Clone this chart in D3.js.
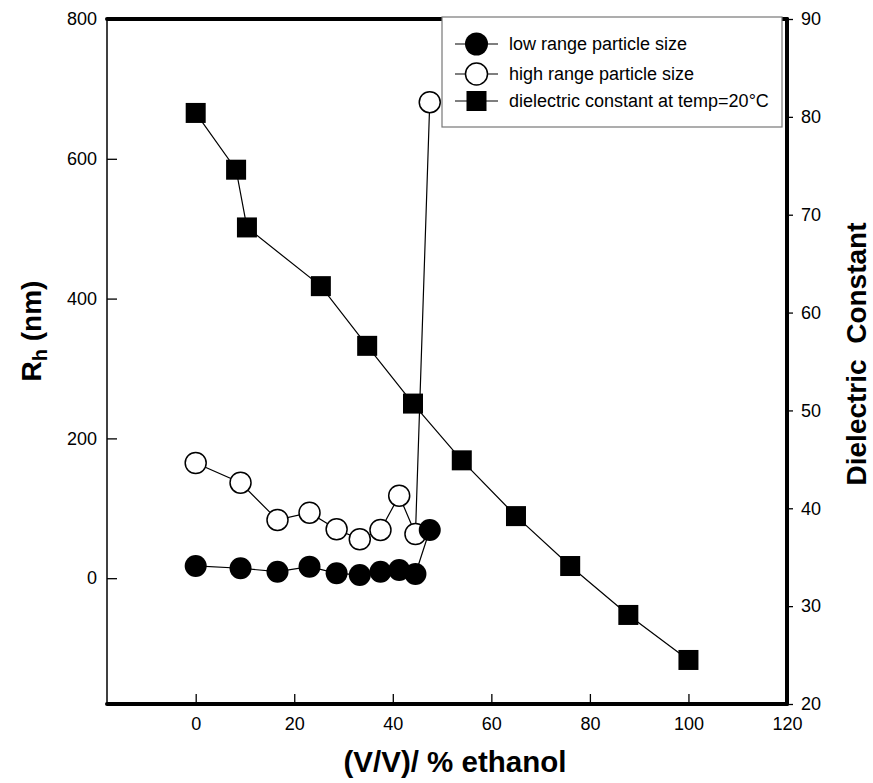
<!DOCTYPE html>
<html>
<head>
<meta charset="utf-8">
<script src="https://cdn.jsdelivr.net/npm/d3@7"></script>
<style>
  html, body { margin: 0; padding: 0; background: #fff; }
  svg text { font-family: "Liberation Sans", Arial, sans-serif; fill: #000; }
</style>
</head>
<body>
<div id="chart"></div>
<script>
const lowX = [0, 9.1, 16.6, 23.1, 28.6, 33.3, 37.5, 41.3, 44.6, 47.5];
const lowRh = [17.5, 14.2, 9.3, 16.5, 7, 4.6, 9.3, 11.7, 6, 69];

const highX = [0, 9.1, 16.6, 23.1, 28.6, 33.3, 37.5, 41.3, 44.6, 47.5];
const highRh = [164.8, 136.6, 83.3, 93.7, 70, 55.7, 69, 118, 63.2, 681];

const dielX = [0, 8.2, 10.4, 25.4, 34.8, 44.1, 54, 65, 76, 87.8, 100];
const dielK = [80.4, 74.6, 68.7, 62.7, 56.6, 50.7, 44.9, 39.2, 34.1, 29.1, 24.5];

const xTicks = [0, 20, 40, 60, 80, 100, 120];
const yLeftTicks = [0, 200, 400, 600, 800];
const yRightTicks = [20, 30, 40, 50, 60, 70, 80, 90];

const legendLabels = [
  "low range particle size",
  "high range particle size",
  "dielectric constant at temp=20\u00b0C",
];

const width = 873, height = 783;
const m = { left: 107, right: 787, top: 19, bottom: 704 };

const svg = d3.select("#chart").append("svg")
  .attr("width", width)
  .attr("height", height);

svg.append("rect").attr("width", width).attr("height", height).attr("fill", "#fff");

const x = d3.scaleLinear().domain([-18, 120]).range([m.left, m.right]);
const yL = d3.scaleLinear().domain([-180, 800]).range([m.bottom, m.top]);
const yR = d3.scaleLinear().domain([20, 90]).range([m.bottom, m.top]);

// Axes (ticks only, frame lines drawn separately)
const gx = svg.append("g")
  .attr("transform", `translate(0,${m.bottom})`)
  .call(d3.axisBottom(x).tickValues(xTicks).tickSizeInner(-10).tickSizeOuter(0).tickPadding(13));

const gyl = svg.append("g")
  .attr("transform", `translate(${m.left},0)`)
  .call(d3.axisLeft(yL).tickValues(yLeftTicks).tickSizeInner(-10).tickSizeOuter(0).tickPadding(10));

const gyr = svg.append("g")
  .attr("transform", `translate(${m.right},0)`)
  .call(d3.axisRight(yR).tickValues(yRightTicks).tickSizeInner(6).tickSizeOuter(0).tickPadding(8));

[gx, gyl, gyr].forEach((g) => {
  g.select(".domain").remove();
  g.selectAll(".tick line").attr("stroke", "#000").attr("stroke-width", 1.3);
  g.selectAll(".tick text")
    .attr("font-size", 18)
    .attr("font-family", '"Liberation Sans", Arial, sans-serif')
    .attr("fill", "#000");
});

// Frame: thin left, thick top / bottom / right
svg.append("line")
  .attr("x1", m.left).attr("x2", m.left)
  .attr("y1", m.top).attr("y2", m.bottom)
  .attr("stroke", "#000").attr("stroke-width", 1.5);

const thick = [
  [m.left, m.top, m.right, m.top],
  [m.left, m.bottom, m.right, m.bottom],
  [m.right, m.top, m.right, m.bottom],
];
svg.append("g").selectAll("line")
  .data(thick)
  .join("line")
  .attr("x1", (d) => d[0]).attr("y1", (d) => d[1])
  .attr("x2", (d) => d[2]).attr("y2", (d) => d[3])
  .attr("stroke", "#000").attr("stroke-width", 4)
  .attr("stroke-linecap", "round");

// Series
const dielData = dielX.map((v, i) => [v, dielK[i]]);
const highData = highX.map((v, i) => [v, highRh[i]]);
const lowData = lowX.map((v, i) => [v, lowRh[i]]);

const lineR = d3.line().x((d) => x(d[0])).y((d) => yR(d[1]));
const lineL = d3.line().x((d) => x(d[0])).y((d) => yL(d[1]));

svg.append("path").datum(dielData).attr("d", lineR)
  .attr("fill", "none").attr("stroke", "#000").attr("stroke-width", 1.2);
const sq = 20;
svg.append("g").selectAll("rect")
  .data(dielData)
  .join("rect")
  .attr("x", (d) => x(d[0]) - sq / 2)
  .attr("y", (d) => yR(d[1]) - sq / 2)
  .attr("width", sq).attr("height", sq)
  .attr("fill", "#000");

svg.append("path").datum(highData).attr("d", lineL)
  .attr("fill", "none").attr("stroke", "#000").attr("stroke-width", 1.2);
svg.append("g").selectAll("circle")
  .data(highData)
  .join("circle")
  .attr("cx", (d) => x(d[0]))
  .attr("cy", (d) => yL(d[1]))
  .attr("r", 10.5)
  .attr("fill", "#fff").attr("stroke", "#000").attr("stroke-width", 1.5);

svg.append("path").datum(lowData).attr("d", lineL)
  .attr("fill", "none").attr("stroke", "#000").attr("stroke-width", 1.2);
svg.append("g").selectAll("circle")
  .data(lowData)
  .join("circle")
  .attr("cx", (d) => x(d[0]))
  .attr("cy", (d) => yL(d[1]))
  .attr("r", 11)
  .attr("fill", "#000");

// Legend
const lg = svg.append("g");
lg.append("rect")
  .attr("x", 442).attr("y", 17).attr("width", 340).attr("height", 110)
  .attr("fill", "#fff").attr("stroke", "#777").attr("stroke-width", 1.2);

const rowY = [44, 74, 101];
legendLabels.forEach((label, i) => {
  const cy = rowY[i];
  lg.append("line")
    .attr("x1", 455).attr("x2", 498).attr("y1", cy).attr("y2", cy)
    .attr("stroke", "#000").attr("stroke-width", 1.2);
  if (i === 0) {
    lg.append("circle").attr("cx", 476.5).attr("cy", cy).attr("r", 11.5).attr("fill", "#000");
  } else if (i === 1) {
    lg.append("circle").attr("cx", 476.5).attr("cy", cy).attr("r", 11)
      .attr("fill", "#fff").attr("stroke", "#000").attr("stroke-width", 1.5);
  } else {
    lg.append("rect").attr("x", 476.5 - 10).attr("y", cy - 10)
      .attr("width", 20).attr("height", 20).attr("fill", "#000");
  }
  lg.append("text")
    .attr("x", 509).attr("y", cy).attr("dy", "0.35em")
    .attr("font-size", 18)
    .text(label);
});

// Axis titles
svg.append("text")
  .attr("x", 455).attr("y", 772)
  .attr("text-anchor", "middle")
  .attr("font-size", 29.5).attr("font-weight", "bold")
  .text("(V/V)/ % ethanol");

const rh = svg.append("text")
  .attr("transform", "translate(41,331) rotate(-90)")
  .attr("text-anchor", "middle")
  .attr("font-size", 28).attr("font-weight", "bold");
rh.append("tspan").text("R");
rh.append("tspan").attr("font-size", 20).attr("dy", 6).text("h");
rh.append("tspan").attr("dy", -6).text(" (nm)");

svg.append("text")
  .attr("transform", "translate(866,354) rotate(-90)")
  .attr("text-anchor", "middle")
  .attr("font-size", 28).attr("font-weight", "bold")
  .style("white-space", "pre")
  .text("Dielectric  Constant");
</script>
</body>
</html>
